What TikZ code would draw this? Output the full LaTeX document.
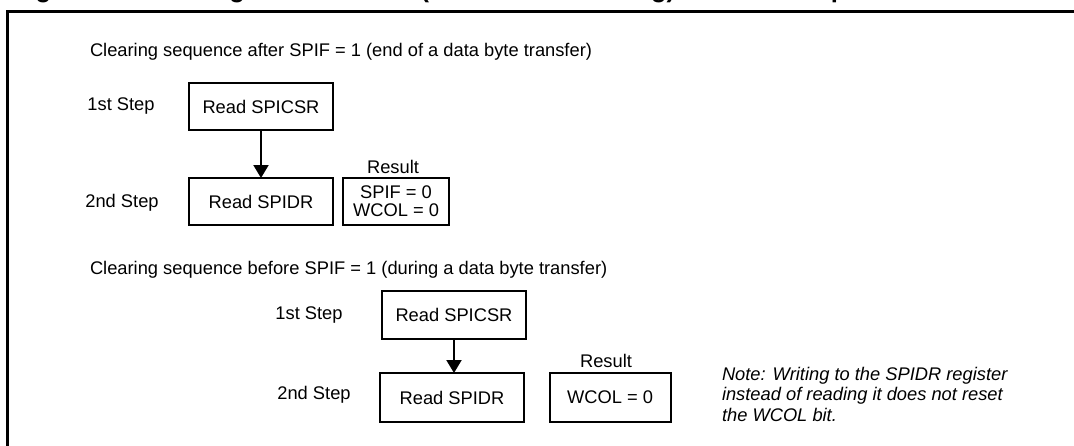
\documentclass[tikz,border=0pt]{standalone}
\usepackage{fontspec}
\setmainfont{Liberation Sans}
\usetikzlibrary{arrows.meta}
\begin{document}
\begin{tikzpicture}[x=1pt,y=-1pt,
  every node/.style={inner sep=0pt, outer sep=0pt, font=\fontsize{18.3}{21}\selectfont},
  box/.style={draw, line width=2pt, minimum width=#1},
  flow/.style={-{Triangle[width=15pt,length=13pt]}, line width=2pt},
  lbl/.style={anchor=center},
  note/.style={align=left, font=\itshape\fontsize{18.3}{20.5}\selectfont}]
\useasboundingbox (0,0) rectangle (1074,445);
\begin{scope}
  \clip (0,0) rectangle (1074,445);
  \node[anchor=base west, font=\bfseries\fontsize{25.5}{30}\selectfont] (title) at (13,-3)
    {Figure 50. Clearing the WCOL bit (Write Collision Flag) software sequence};
  \draw[line width=2.7pt] (7.3,460) -- (7.3,11.3) -- (1090,11.3);
\end{scope}
% Section 1
\node[anchor=west] (t1) at (90,52) {Clearing sequence after SPIF = 1 (end of a data byte transfer)};
\node[lbl] (s11) at (121,106) {1st Step};
\node[box=144pt, minimum height=47pt] (a1) at (261,106.5) {Read SPICSR};
\node[lbl] (s12) at (122,203) {2nd Step};
\node[box=144pt, minimum height=47pt] (a2) at (261,201.5) {Read SPIDR};
\node[lbl] (r1) at (393,167) {Result};
\node[box=106pt, minimum height=47pt, align=center] (b1) at (396,201.5) {SPIF = 0\\[-3pt]WCOL = 0};
\draw[flow] (a1) -- (a2);
% Section 2
\node[anchor=west] (t2) at (90,270) {Clearing sequence before SPIF = 1 (during a data byte transfer)};
\node[lbl] (s21) at (309,315) {1st Step};
\node[box=144pt, minimum height=48pt] (a3) at (454,315) {Read SPICSR};
\node[lbl] (s22) at (314,395) {2nd Step};
\node[box=144pt, minimum height=49pt] (a4) at (452,397.5) {Read SPIDR};
\node[lbl] (r2) at (606,361) {Result};
\node[box=121pt, minimum height=49pt] (b2) at (610,397.5) {WCOL = 0};
\draw[flow] (a3.south) -- (a3.south |- a4.north);
\node[note, anchor=west] (n) at (722,394) {Note: Writing to the SPIDR register\\instead of reading it does not reset\\the WCOL bit.};
\end{tikzpicture}
\end{document}
